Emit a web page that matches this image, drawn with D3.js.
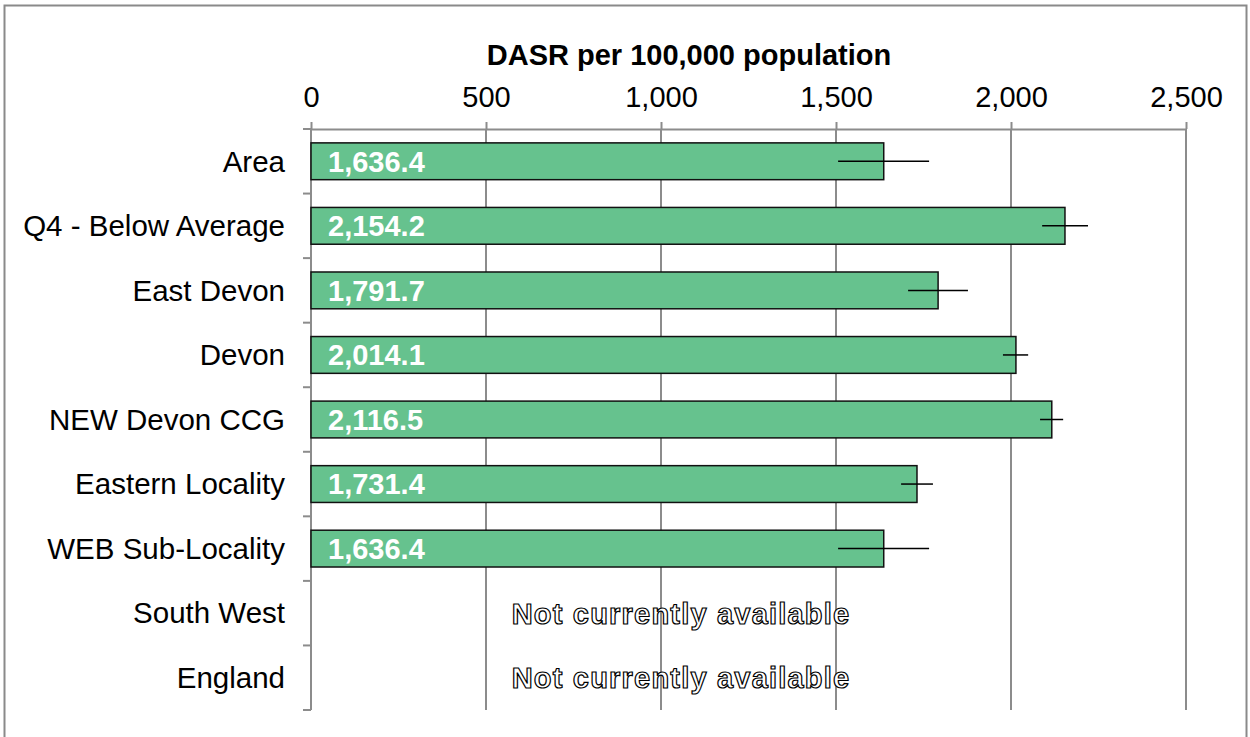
<!DOCTYPE html>
<html>
<head>
<meta charset="utf-8">
<script src="https://cdn.jsdelivr.net/npm/d3@7"></script>
<style>
  body { margin: 0; background: #fff; }
  text { font-family: "Liberation Sans", Arial, sans-serif; }
</style>
</head>
<body>
<div id="chart"></div>
<script>
// values
const categories = ["Area", "Q4 - Below Average", "East Devon", "Devon", "NEW Devon CCG",
  "Eastern Locality", "WEB Sub-Locality", "South West", "England"];
const values = [1636.4, 2154.2, 1791.7, 2014.1, 2116.5, 1731.4, 1636.4, null, null];
const ciLow  = [1506, 2089, 1706, 1977, 2083, 1686, 1506, null, null];
const ciHigh = [1766, 2220, 1877, 2049, 2149, 1777, 1766, null, null];
const xTicks = [0, 500, 1000, 1500, 2000, 2500];

const width = 1250, height = 737;
const svg = d3.select("#chart").append("svg")
  .attr("width", width).attr("height", height);

// outer frame (bottom edge runs off the picture)
svg.append("rect")
  .attr("x", 4.5).attr("y", 5.5).attr("width", 1242).attr("height", 760)
  .attr("fill", "none").attr("stroke", "#8a8a8a").attr("stroke-width", 2);

const x = d3.scaleLinear().domain([0, 2500]).range([311, 1186]);
const y = d3.scaleBand().domain(categories).range([129, 710])
  .paddingInner(0.43).paddingOuter(0.215);
const fmt = d3.format(",.1f");

// gridlines
svg.append("g").selectAll("line").data(xTicks).join("line")
  .attr("x1", d => x(d)).attr("x2", d => x(d))
  .attr("y1", 129).attr("y2", 710)
  .attr("stroke", "#8c8c8c").attr("stroke-width", 2);

// top axis
const ax = svg.append("g").attr("transform", "translate(0,129)")
  .call(d3.axisTop(x).tickValues(xTicks).tickFormat(d3.format(","))
    .tickSize(7).tickSizeOuter(0).tickPadding(15));
ax.select(".domain").attr("stroke", "#8c8c8c").attr("stroke-width", 2);
ax.selectAll(".tick line").attr("stroke", "#8c8c8c").attr("stroke-width", 2);
ax.selectAll(".tick text").attr("font-size", 29).attr("fill", "#000")
  .attr("font-family", "Liberation Sans, Arial, sans-serif");

// axis title
svg.append("text")
  .attr("x", 689).attr("y", 65).attr("text-anchor", "middle")
  .attr("font-size", 29).attr("font-weight", "bold")
  .text("DASR per 100,000 population");

// category axis with ticks at band boundaries
const step = y.step();
const bounds = d3.range(categories.length + 1).map(i => 129 + i * (710 - 129) / categories.length);
svg.append("line").attr("x1", 311).attr("x2", 311).attr("y1", 129).attr("y2", 710)
  .attr("stroke", "#8c8c8c").attr("stroke-width", 2);
svg.append("g").selectAll("line").data(bounds).join("line")
  .attr("x1", 303).attr("x2", 311).attr("y1", d => d).attr("y2", d => d)
  .attr("stroke", "#8c8c8c").attr("stroke-width", 2);

// category labels
svg.append("g").selectAll("text").data(categories).join("text")
  .attr("x", 285).attr("y", d => y(d) + y.bandwidth() / 2)
  .attr("dy", "0.35em").attr("text-anchor", "end")
  .attr("font-size", 29.5).text(d => d);

const rows = categories.map((c, i) => ({ c, v: values[i], lo: ciLow[i], hi: ciHigh[i] }));
const avail = rows.filter(d => d.v != null);

// bars
svg.append("g").selectAll("rect").data(avail).join("rect")
  .attr("x", x(0)).attr("y", d => y(d.c))
  .attr("width", d => x(d.v) - x(0)).attr("height", y.bandwidth())
  .attr("fill", "#66c28e").attr("stroke", "#111").attr("stroke-width", 1.5);

// error bars
svg.append("g").selectAll("line").data(avail).join("line")
  .attr("x1", d => x(d.lo)).attr("x2", d => x(d.hi))
  .attr("y1", d => y(d.c) + y.bandwidth() / 2).attr("y2", d => y(d.c) + y.bandwidth() / 2)
  .attr("stroke", "#000").attr("stroke-width", 1.5);

// value labels
svg.append("g").selectAll("text").data(avail).join("text")
  .attr("x", 328).attr("y", d => y(d.c) + y.bandwidth() / 2)
  .attr("dy", "0.36em").attr("font-size", 29).attr("font-weight", "bold")
  .attr("fill", "#fff").text(d => fmt(d.v));

// missing values
svg.append("g").selectAll("text").data(rows.filter(d => d.v == null)).join("text")
  .attr("x", 681).attr("y", d => y(d.c) + y.bandwidth() / 2)
  .attr("dy", "0.36em").attr("text-anchor", "middle")
  .attr("font-size", 29).attr("font-weight", "bold").attr("letter-spacing", 1.2)
  .attr("fill", "#fff").attr("stroke", "#000").attr("stroke-width", 1.2)
  .text("Not currently available");
</script>
</body>
</html>
